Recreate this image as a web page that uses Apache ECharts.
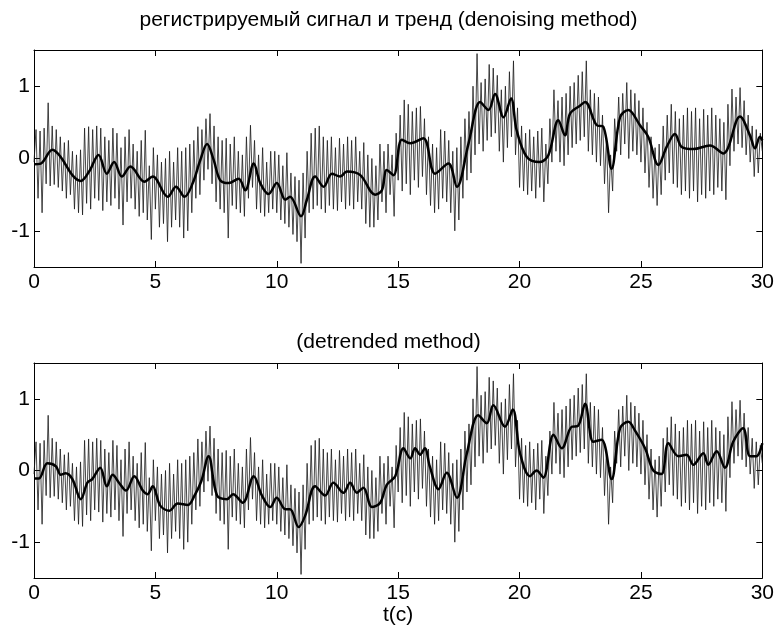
<!DOCTYPE html>
<html>
<head>
<meta charset="utf-8">
<script src="https://cdn.jsdelivr.net/npm/echarts@6/dist/echarts.min.js"></script>
<style>html,body{margin:0;padding:0;background:#fff}#c{width:777px;height:627px}</style>
</head>
<body>
<div id="c"></div>
<script>
// sampling step of the recorded signal (seconds)
const sampleStep = 1 / 12;
// recorded signal, one row per second (12 samples each) + final sample
const signal = [
 -0.05, 0.40, -0.55, 0.38, -0.75, 0.42, -0.35, 0.77, -0.38, 0.45, -0.36, 0.40,
 -0.40, 0.30, -0.45, 0.22, -0.55, 0.25, -0.50, 0.10, -0.70, 0.05, -0.75, 0.12,
 -0.78, 0.42, -0.62, 0.44, -0.70, 0.40, -0.55, 0.45, -0.58, 0.42, -0.72, 0.30,
 -0.60, 0.25, -0.65, 0.42, -0.55, 0.35, -0.70, 0.15, -0.92, 0.30, -0.60, 0.40,
 -0.55, 0.20, -0.70, 0.10, -0.80, 0.25, -0.75, 0.39, -0.85, -0.10, -1.12, 0.15,
 -0.70, 0.05, -0.95, -0.05, -0.90, 0.00, -1.15, 0.10, -0.95, -0.05, -0.85, 0.15,
 -0.95, 0.10, -1.10, 0.15, -1.00, 0.20, -0.75, 0.25, -0.55, 0.44, -0.50, 0.40,
 -0.30, 0.55, -0.15, 0.62, -0.35, 0.45, -0.60, 0.30, -0.70, 0.25, -0.75, 0.28,
 -1.10, 0.20, -0.65, 0.30, -0.70, 0.10, -0.75, 0.05, -0.80, 0.30, -0.55, 0.46,
 -0.40, 0.25, -0.70, 0.05, -0.75, 0.15, -0.80, -0.05, -0.75, 0.10, -0.70, 0.10,
 -0.75, 0.05, -0.85, -0.10, -0.90, 0.08, -0.95, -0.20, -1.05, -0.25, -1.15, -0.30,
 -1.45, -0.20, -1.10, 0.10, -0.75, 0.35, -0.70, 0.42, -0.65, 0.45, -0.70, 0.30,
 -0.75, 0.25, -0.65, 0.30, -0.70, 0.15, -0.72, 0.28, -0.60, 0.20, -0.70, 0.30,
 -0.65, 0.25, -0.70, 0.30, -0.60, 0.10, -0.70, 0.22, -0.90, 0.05, -0.95, 0.00,
 -0.95, -0.10, -0.85, 0.20, -0.60, 0.10, -0.75, 0.20, -0.50, 0.05, -0.80, 0.35,
 -0.30, 0.60, -0.45, 0.81, -0.35, 0.75, -0.50, 0.65, -0.30, 0.70, -0.40, 0.72,
 -0.25, 0.55, -0.50, 0.30, -0.65, 0.20, -0.75, 0.15, -0.70, 0.40, -0.55, 0.38,
 -0.60, 0.25, -0.75, 0.10, -1.00, 0.15, -0.85, 0.30, -0.55, 0.55, -0.30, 0.65,
 -0.20, 1.00, 0.05, 1.45, 0.20, 1.05, 0.10, 1.10, 0.25, 1.30, 0.30, 1.25,
 0.35, 1.15, 0.10, 0.95, -0.05, 1.00, 0.15, 1.20, 0.30, 1.35, 0.05, 0.70,
 -0.40, 0.45, -0.45, 0.35, -0.50, 0.40, -0.45, 0.30, -0.55, 0.38, -0.40, 0.42,
 -0.60, 0.20, -0.35, 0.55, -0.05, 0.95, 0.10, 0.80, -0.05, 0.85, -0.10, 0.90,
 0.05, 1.00, 0.15, 1.05, 0.20, 1.15, 0.25, 1.20, 0.30, 1.35, 0.10, 0.95,
 0.05, 0.90, -0.05, 0.85, -0.10, 0.60, -0.35, 0.30, -0.75, 0.05, -0.45, 0.55,
 0.10, 0.85, 0.05, 0.90, 0.20, 1.05, 0.00, 0.95, 0.10, 0.90, 0.05, 0.80,
 -0.05, 0.70, -0.20, 0.50, -0.40, 0.30, -0.55, 0.15, -0.65, 0.20, -0.50, 0.45,
 -0.30, 0.60, -0.20, 0.75, -0.35, 0.65, -0.40, 0.55, -0.50, 0.60, -0.45, 0.70,
 -0.55, 0.65, -0.45, 0.70, -0.60, 0.55, -0.50, 0.68, -0.55, 0.60, -0.45, 0.70,
 -0.50, 0.60, -0.40, 0.55, -0.45, 0.50, -0.57, 0.75, -0.10, 0.96, 0.10, 0.85,
 0.20, 0.98, 0.15, 0.80, 0.05, 0.60, -0.05, 0.45, -0.25, 0.40, -0.20, 0.35,
 0.10
];

// trend, denoising method (top panel)
const trendDenoiseT = [0,0.28,0.76,1.1,1.58,1.93,2.27,2.66,3.0,3.3,3.62,3.97,4.55,4.89,5.51,5.85,6.2,6.54,6.85,7.13,7.4,7.67,8.02,8.43,8.7,9.05,9.32,9.66,10.0,10.35,10.55,11.0,11.24,11.58,11.93,12.27,12.61,12.89,13.44,14.05,14.33,14.53,14.81,15.15,15.5,16.04,16.52,17.07,17.42,17.9,18.38,18.72,18.99,19.34,19.65,19.88,20.3,20.84,21.19,21.6,21.87,22.08,22.49,22.7,23.18,23.45,23.79,24.14,24.48,24.96,25.3,25.72,26.06,26.4,26.68,27.16,27.84,28.39,29.08,29.49,29.7,29.9,30];
const trendDenoiseV = [-0.08,-0.07,0.12,0.02,-0.23,-0.31,-0.18,0.05,-0.21,-0.05,-0.25,-0.11,-0.32,-0.25,-0.53,-0.39,-0.53,-0.34,-0.02,0.2,-0.02,-0.3,-0.34,-0.28,-0.44,-0.07,-0.34,-0.49,-0.34,-0.57,-0.53,-0.8,-0.57,-0.25,-0.39,-0.21,-0.25,-0.18,-0.23,-0.5,-0.44,-0.16,-0.23,0.26,0.21,0.28,-0.21,-0.07,-0.39,0.21,0.78,0.67,0.89,0.57,0.83,0.39,0.02,-0.05,0.05,0.53,0.32,0.62,0.73,0.78,0.46,0.44,-0.14,0.57,0.67,0.46,0.3,-0.09,0.16,0.34,0.16,0.13,0.18,0.07,0.58,0.32,0.14,0.3,0.25];

// trend, detrended method (bottom panel)
const trendDetrendT = [0,0.2,0.55,0.9,1.1,1.3,1.58,1.93,2.2,2.4,2.73,3.0,3.24,3.5,3.79,4.13,4.48,4.68,4.89,5.2,5.58,5.92,6.34,6.61,6.89,7.19,7.54,7.95,8.2,8.6,9.05,9.39,9.73,10.0,10.35,10.55,10.9,11.17,11.58,11.99,12.33,12.75,13.02,13.3,13.57,13.92,14.26,14.53,14.88,15.22,15.5,15.7,15.9,16.1,16.3,16.66,17.0,17.42,17.83,18.3,18.65,18.92,19.4,19.72,20.02,20.43,20.7,20.98,21.4,21.74,22.15,22.4,22.7,23.04,23.38,23.79,24.14,24.48,24.75,25.17,25.51,25.85,26.13,26.54,26.88,27.16,27.57,27.77,28.12,28.46,28.8,29.21,29.49,29.76,30];
const trendDetrendV = [-0.11,-0.11,0.1,0.06,-0.06,-0.04,-0.12,-0.4,-0.17,-0.12,0.04,-0.22,-0.06,-0.17,-0.28,-0.08,-0.28,-0.33,-0.22,-0.49,-0.56,-0.46,-0.48,-0.35,-0.15,0.2,-0.35,-0.4,-0.33,-0.45,-0.08,-0.35,-0.51,-0.38,-0.54,-0.54,-0.79,-0.63,-0.22,-0.35,-0.17,-0.31,-0.17,-0.31,-0.24,-0.51,-0.45,-0.2,-0.08,0.31,0.17,0.31,0.22,0.31,0.06,-0.26,-0.03,-0.38,0.24,0.77,0.66,0.91,0.61,0.85,0.24,-0.08,0.0,-0.1,0.5,0.31,0.61,0.62,0.93,0.4,0.43,-0.12,0.59,0.68,0.56,0.31,0.0,-0.05,0.38,0.2,0.22,0.08,0.24,0.08,0.27,0.04,0.4,0.59,0.2,0.2,0.38];

const xTicks = [0, 5, 10, 15, 20, 25, 30];
const yTicks = [-1, 0, 1];
const titles = ['регистрируемый сигнал и тренд (denoising method)', '(detrended method)'];
const xName = 't(c)';

const signalData = signal.map((v, i) => [i * sampleStep, v]);
const pairs = (t, v) => t.map((x, i) => [x, v[i]]);

const FONT = 'Liberation Sans, Arial, Helvetica, sans-serif';
const FS = 21;
const grids = [
  { left: 34, top: 50, width: 729, height: 217 },
  { left: 34, top: 363, width: 729, height: 216 }
];
const xAxes = [], yAxes = [];
grids.forEach((g, gi) => {
  const base = { gridIndex: gi, type: 'value', min: 0, max: 30, interval: 5,
    axisLine: { show: true, onZero: false, lineStyle: { color: '#000', width: 1 } },
    axisTick: { show: true, inside: true, length: 6, lineStyle: { color: '#000' }, customValues: xTicks },
    splitLine: { show: false } };
  xAxes.push(Object.assign({}, base, { position: 'bottom',
    axisLabel: { show: true, color: '#000', fontFamily: FONT, fontSize: FS, margin: 5, customValues: xTicks },
    name: gi === 1 ? xName : '', nameLocation: 'middle', nameGap: 27,
    nameTextStyle: { color: '#000', fontFamily: FONT, fontSize: FS } }));
  xAxes.push(Object.assign({}, base, { position: 'top', axisLabel: { show: false } }));
  const ybase = { gridIndex: gi, type: 'value', min: -1.5, max: 1.5, interval: 1,
    axisLine: { show: true, onZero: false, lineStyle: { color: '#000', width: 1 } },
    axisTick: { show: true, inside: true, length: 6, lineStyle: { color: '#000' },
      customValues: yTicks },
    splitLine: { show: false } };
  yAxes.push(Object.assign({}, ybase, { position: 'left',
    axisLabel: { show: true, color: '#000', fontFamily: FONT, fontSize: FS, margin: 4,
      customValues: yTicks } }));
  yAxes.push(Object.assign({}, ybase, { position: 'right', axisLabel: { show: false } }));
});

const chart = echarts.init(document.getElementById('c'), null, { renderer: 'canvas' });
chart.setOption({
  animation: false,
  backgroundColor: '#fff',
  title: [
    { text: titles[0], left: 'center', top: 5, textStyle: { fontFamily: FONT, fontSize: FS, fontWeight: 'normal', color: '#000' } },
    { text: titles[1], left: 'center', top: 327, textStyle: { fontFamily: FONT, fontSize: FS, fontWeight: 'normal', color: '#000' } }
  ],
  grid: grids,
  xAxis: xAxes,
  yAxis: yAxes,
  series: [
    { type: 'line', xAxisIndex: 0, yAxisIndex: 0, data: signalData, showSymbol: false, lineStyle: { color: '#1a1a1a', width: 0.8 } },
    { type: 'line', xAxisIndex: 0, yAxisIndex: 0, data: pairs(trendDenoiseT, trendDenoiseV), showSymbol: false, smooth: 0.35, lineStyle: { color: '#000', width: 2.5 } },
    { type: 'line', xAxisIndex: 2, yAxisIndex: 2, data: signalData, showSymbol: false, lineStyle: { color: '#1a1a1a', width: 0.8 } },
    { type: 'line', xAxisIndex: 2, yAxisIndex: 2, data: pairs(trendDetrendT, trendDetrendV), showSymbol: false, smooth: 0.35, lineStyle: { color: '#000', width: 2.5 } }
  ]
});
</script>
</body>
</html>
